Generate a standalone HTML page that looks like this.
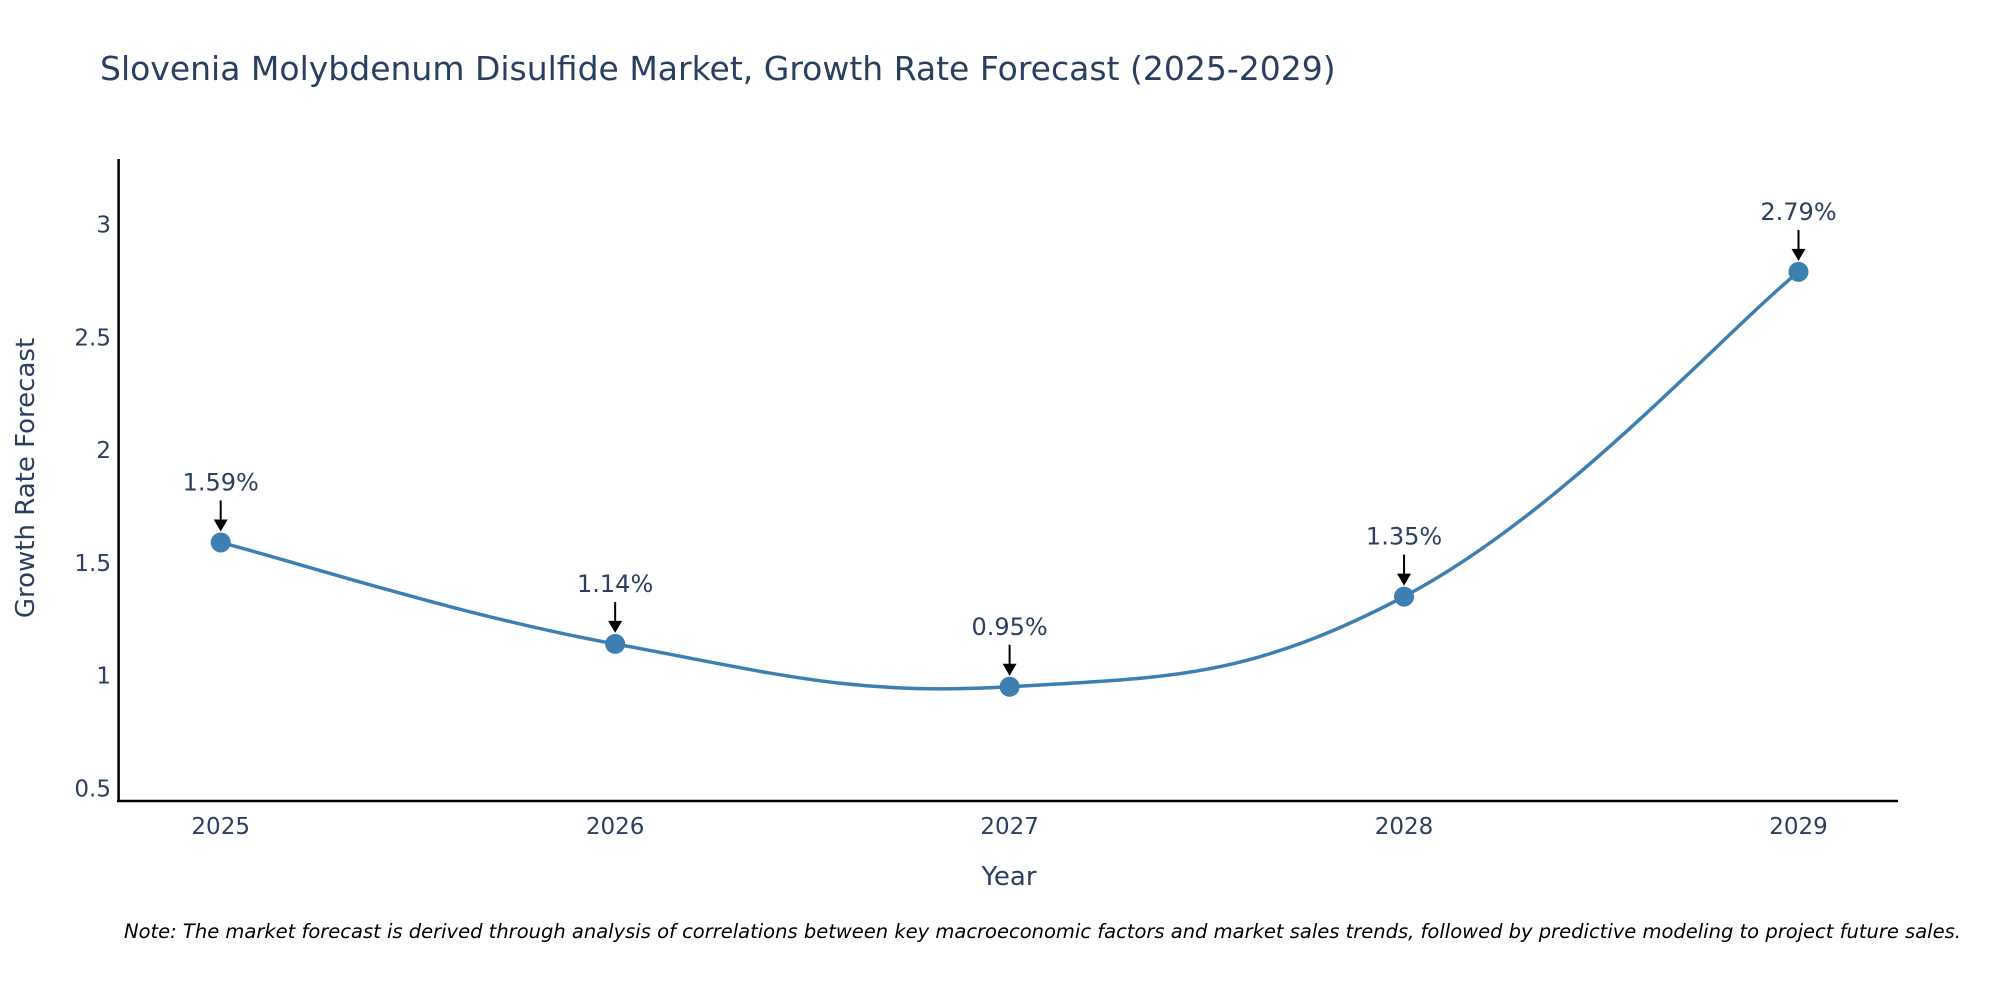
<!DOCTYPE html>
<html><head><meta charset="utf-8"><style>
body{margin:0;background:#fff;overflow:hidden;}
svg{display:block;font-family:"DejaVu Sans","Liberation Sans",sans-serif;}
</style></head><body>
<svg id="chart" width="2000" height="1000" viewBox="0 0 2000 1000">
<text x="100" y="80" font-size="33" fill="#2a3f5f">Slovenia Molybdenum Disulfide Market, Growth Rate Forecast (2025-2029)</text>
<g id="yticks"></g>
<g id="xticks"></g>
<line x1="118.6" y1="159" x2="118.6" y2="802" stroke="#000" stroke-width="2.5"/>
<line x1="117" y1="801" x2="1898" y2="801" stroke="#000" stroke-width="2.5"/>
<path id="line" fill="none" stroke="#3d7fb0" stroke-width="3.5"/>
<g id="points"></g>
<g id="annots"></g>
<text x="1009" y="885" font-size="26" fill="#2a3f5f" text-anchor="middle">Year</text>
<text transform="translate(34,478) rotate(-90)" font-size="26" fill="#2a3f5f" text-anchor="middle">Growth Rate Forecast</text>
<text x="124" y="938" font-size="19.5" font-style="italic" fill="#000">Note: The market forecast is derived through analysis of correlations between key macroeconomic factors and market sales trends, followed by predictive modeling to project future sales.</text>
</svg>
<script>
const years=[2025,2026,2027,2028,2029];
const values=[1.59,1.14,0.95,1.35,2.79];
const yTickValues=[0.5,1,1.5,2,2.5,3];
const yTickLabels=["0.5","1","1.5","2","2.5","3"];
const NS="http://www.w3.org/2000/svg";
function xs(v){return 220.7+(v-2025)*394.45;}
function ys(v){return 224.5+(3-v)*225.5;}
function mk(t,a,p){const e=document.createElementNS(NS,t);for(const k in a)e.setAttribute(k,a[k]);p.appendChild(e);return e;}
const yt=document.getElementById('yticks');
yTickValues.forEach((v,i)=>{const t=mk('text',{x:111,y:ys(v)+8,'font-size':23,fill:'#2a3f5f','text-anchor':'end'},yt);


t.textContent=yTickLabels[i];});
const xt=document.getElementById('xticks');
years.forEach(y=>{const t=mk('text',{x:xs(y),y:834,'font-size':23,fill:'#2a3f5f','text-anchor':'middle'},xt);


t.textContent=String(y);});
const P=years.map((y,i)=>[xs(y),ys(values[i])]);
let d='M'+P[0][0]+','+P[0][1];const k=0.6;
for(let i=0;i<P.length-1;i++){const p0=P[Math.max(0,i-1)],p1=P[i],p2=P[i+1],p3=P[Math.min(P.length-1,i+2)];
const c1=[p1[0]+(p2[0]-p0[0])*k/3,p1[1]+(p2[1]-p0[1])*k/3],c2=[p2[0]-(p3[0]-p1[0])*k/3,p2[1]-(p3[1]-p1[1])*k/3];
d+=` C${c1[0]},${c1[1]} ${c2[0]},${c2[1]} ${p2[0]},${p2[1]}`;}
document.getElementById('line').setAttribute('d',d);
const pts=document.getElementById('points'),an=document.getElementById('annots');
P.forEach((p,i)=>{const c=mk('circle',{cx:p[0],cy:p[1],r:10,fill:'#3d7fb0'},pts);


const l=mk('line',{x1:p[0],y1:p[1]-42,x2:p[0],y2:p[1]-22,stroke:'#000','stroke-width':2},an);


const h=mk('polygon',{points:`${p[0]-7},${p[1]-23} ${p[0]+7},${p[1]-23} ${p[0]},${p[1]-11}`,fill:'#000'},an);


const t=mk('text',{x:p[0],y:p[1]-52,'font-size':24,fill:'#2a3f5f','text-anchor':'middle'},an);


t.textContent=values[i].toFixed(2)+'%';});
</script>
</body></html>
